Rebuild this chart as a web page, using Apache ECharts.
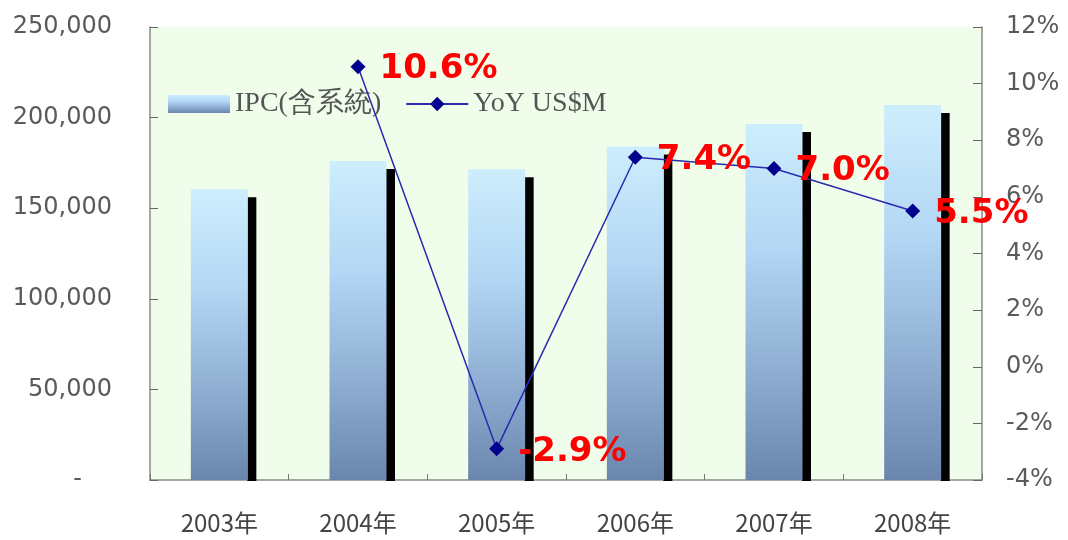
<!DOCTYPE html>
<html>
<head>
<meta charset="utf-8">
<script src="https://cdn.jsdelivr.net/npm/echarts@6/dist/echarts.min.js"></script>
<style>
  html, body { margin: 0; padding: 0; background: #ffffff; }
  #chart { width: 1068px; height: 540px; }
</style>
</head>
<body>
<div id="chart"></div>
<script>
// IPC market size (US$M) and year-on-year growth
const years = ['2003年', '2004年', '2005年', '2006年', '2007年', '2008年'];
const ipcValues = [160500, 176000, 171500, 184000, 196500, 207000];
const yoyValues = [null, 10.6, -2.9, 7.4, 7.0, 5.5];

const BAR_W = 57;
const SHADOW = 8;

const chart = echarts.init(document.getElementById('chart'), null, { renderer: 'canvas' });

const fmtThousands = v => (v === 0 ? '{dash|-}' : String(v).replace(/\B(?=(\d{3})+(?!\d))/g, ','));

const barGradient = new echarts.graphic.LinearGradient(0, 0, 0, 1, [
  { offset: 0, color: '#cdeefd' },
  { offset: 0.35, color: '#b3d6f4' },
  { offset: 0.65, color: '#93b3d6' },
  { offset: 1, color: '#6a86ae' }
]);

chart.setOption({
  animation: false,
  backgroundColor: '#ffffff',
  grid: {
    left: 150, right: 86, top: 27, bottom: 60,
    show: true, backgroundColor: '#effdea', borderWidth: 0
  },
  legend: {
    left: 163, top: 85,
    itemWidth: 62, itemHeight: 18, itemGap: 24,
    textStyle: { fontSize: 28, color: '#555555', fontFamily: 'Liberation Serif, serif' },
    data: [
      { name: 'IPC(含系統)', icon: 'rect', itemStyle: { color: barGradient, shadowColor: 'transparent', shadowBlur: 0 } },
      { name: 'YoY US$M' }
    ]
  },
  xAxis: {
    type: 'category',
    data: years,
    boundaryGap: true,
    axisLine: { lineStyle: { color: '#8a8a8a', width: 1.5 } },
    axisTick: { show: true, inside: true, length: 6, lineStyle: { color: '#777777' } },
    axisLabel: { margin: 31, fontSize: 24, color: '#444444', fontFamily: 'Noto Sans CJK JP', interval: 0 }
  },
  yAxis: [
    {
      type: 'value', min: 0, max: 250000, interval: 50000,
      axisLine: { show: true, lineStyle: { color: '#8a8a8a', width: 1.5 } },
      axisTick: { show: true, inside: true, length: 8, lineStyle: { color: '#666666' } },
      splitLine: { show: false },
      axisLabel: {
        margin: 38, fontSize: 24, color: '#5a5a5a', fontFamily: 'DejaVu Sans',
        formatter: fmtThousands,
        rich: { dash: { fontSize: 24, color: '#5a5a5a', padding: [0, 30, 0, 0] } }
      }
    },
    {
      type: 'value', min: -4, max: 12, interval: 2, position: 'right',
      axisLine: { show: true, lineStyle: { color: '#8a8a8a', width: 1.5 } },
      axisTick: { show: true, inside: true, length: 9, lineStyle: { color: '#666666' } },
      splitLine: { show: false },
      axisLabel: { margin: 24, fontSize: 24, color: '#5a5a5a', fontFamily: 'DejaVu Sans', formatter: '{value}%' }
    }
  ],
  series: [
    {
      // dark depth strip to the right of each bar
      type: 'custom',
      name: 'depth',
      yAxisIndex: 0,
      z: 1,
      silent: true,
      data: ipcValues.map((v, i) => [i, v]),
      renderItem: function (params, api) {
        const top = api.coord([api.value(0), api.value(1)]);
        const base = api.coord([api.value(0), 0]);
        return {
          type: 'rect',
          shape: { x: top[0] + BAR_W / 2 - 0.5, y: top[1] + SHADOW, width: SHADOW + 1, height: base[1] - top[1] - SHADOW + 1 },
          style: { fill: '#000000' }
        };
      }
    },
    {
      name: 'IPC(含系統)',
      type: 'bar',
      yAxisIndex: 0,
      barWidth: BAR_W,
      z: 2,
      data: ipcValues,
      itemStyle: { color: barGradient }
    },
    {
      name: 'YoY US$M',
      type: 'line',
      yAxisIndex: 1,
      z: 5,
      data: yoyValues,
      connectNulls: false,
      symbol: 'diamond',
      symbolSize: 15,
      lineStyle: { color: '#2a2ab0', width: 1.5 },
      itemStyle: { color: '#00008c' },
      label: {
        show: true,
        position: 'right',
        distance: 14,
        offset: [0, 3],
        formatter: p => p.value.toFixed(1) + '%',
        fontSize: 34,
        fontWeight: 'bold',
        color: '#ff0000',
        fontFamily: 'DejaVu Sans'
      }
    }
  ]
});
</script>
</body>
</html>
